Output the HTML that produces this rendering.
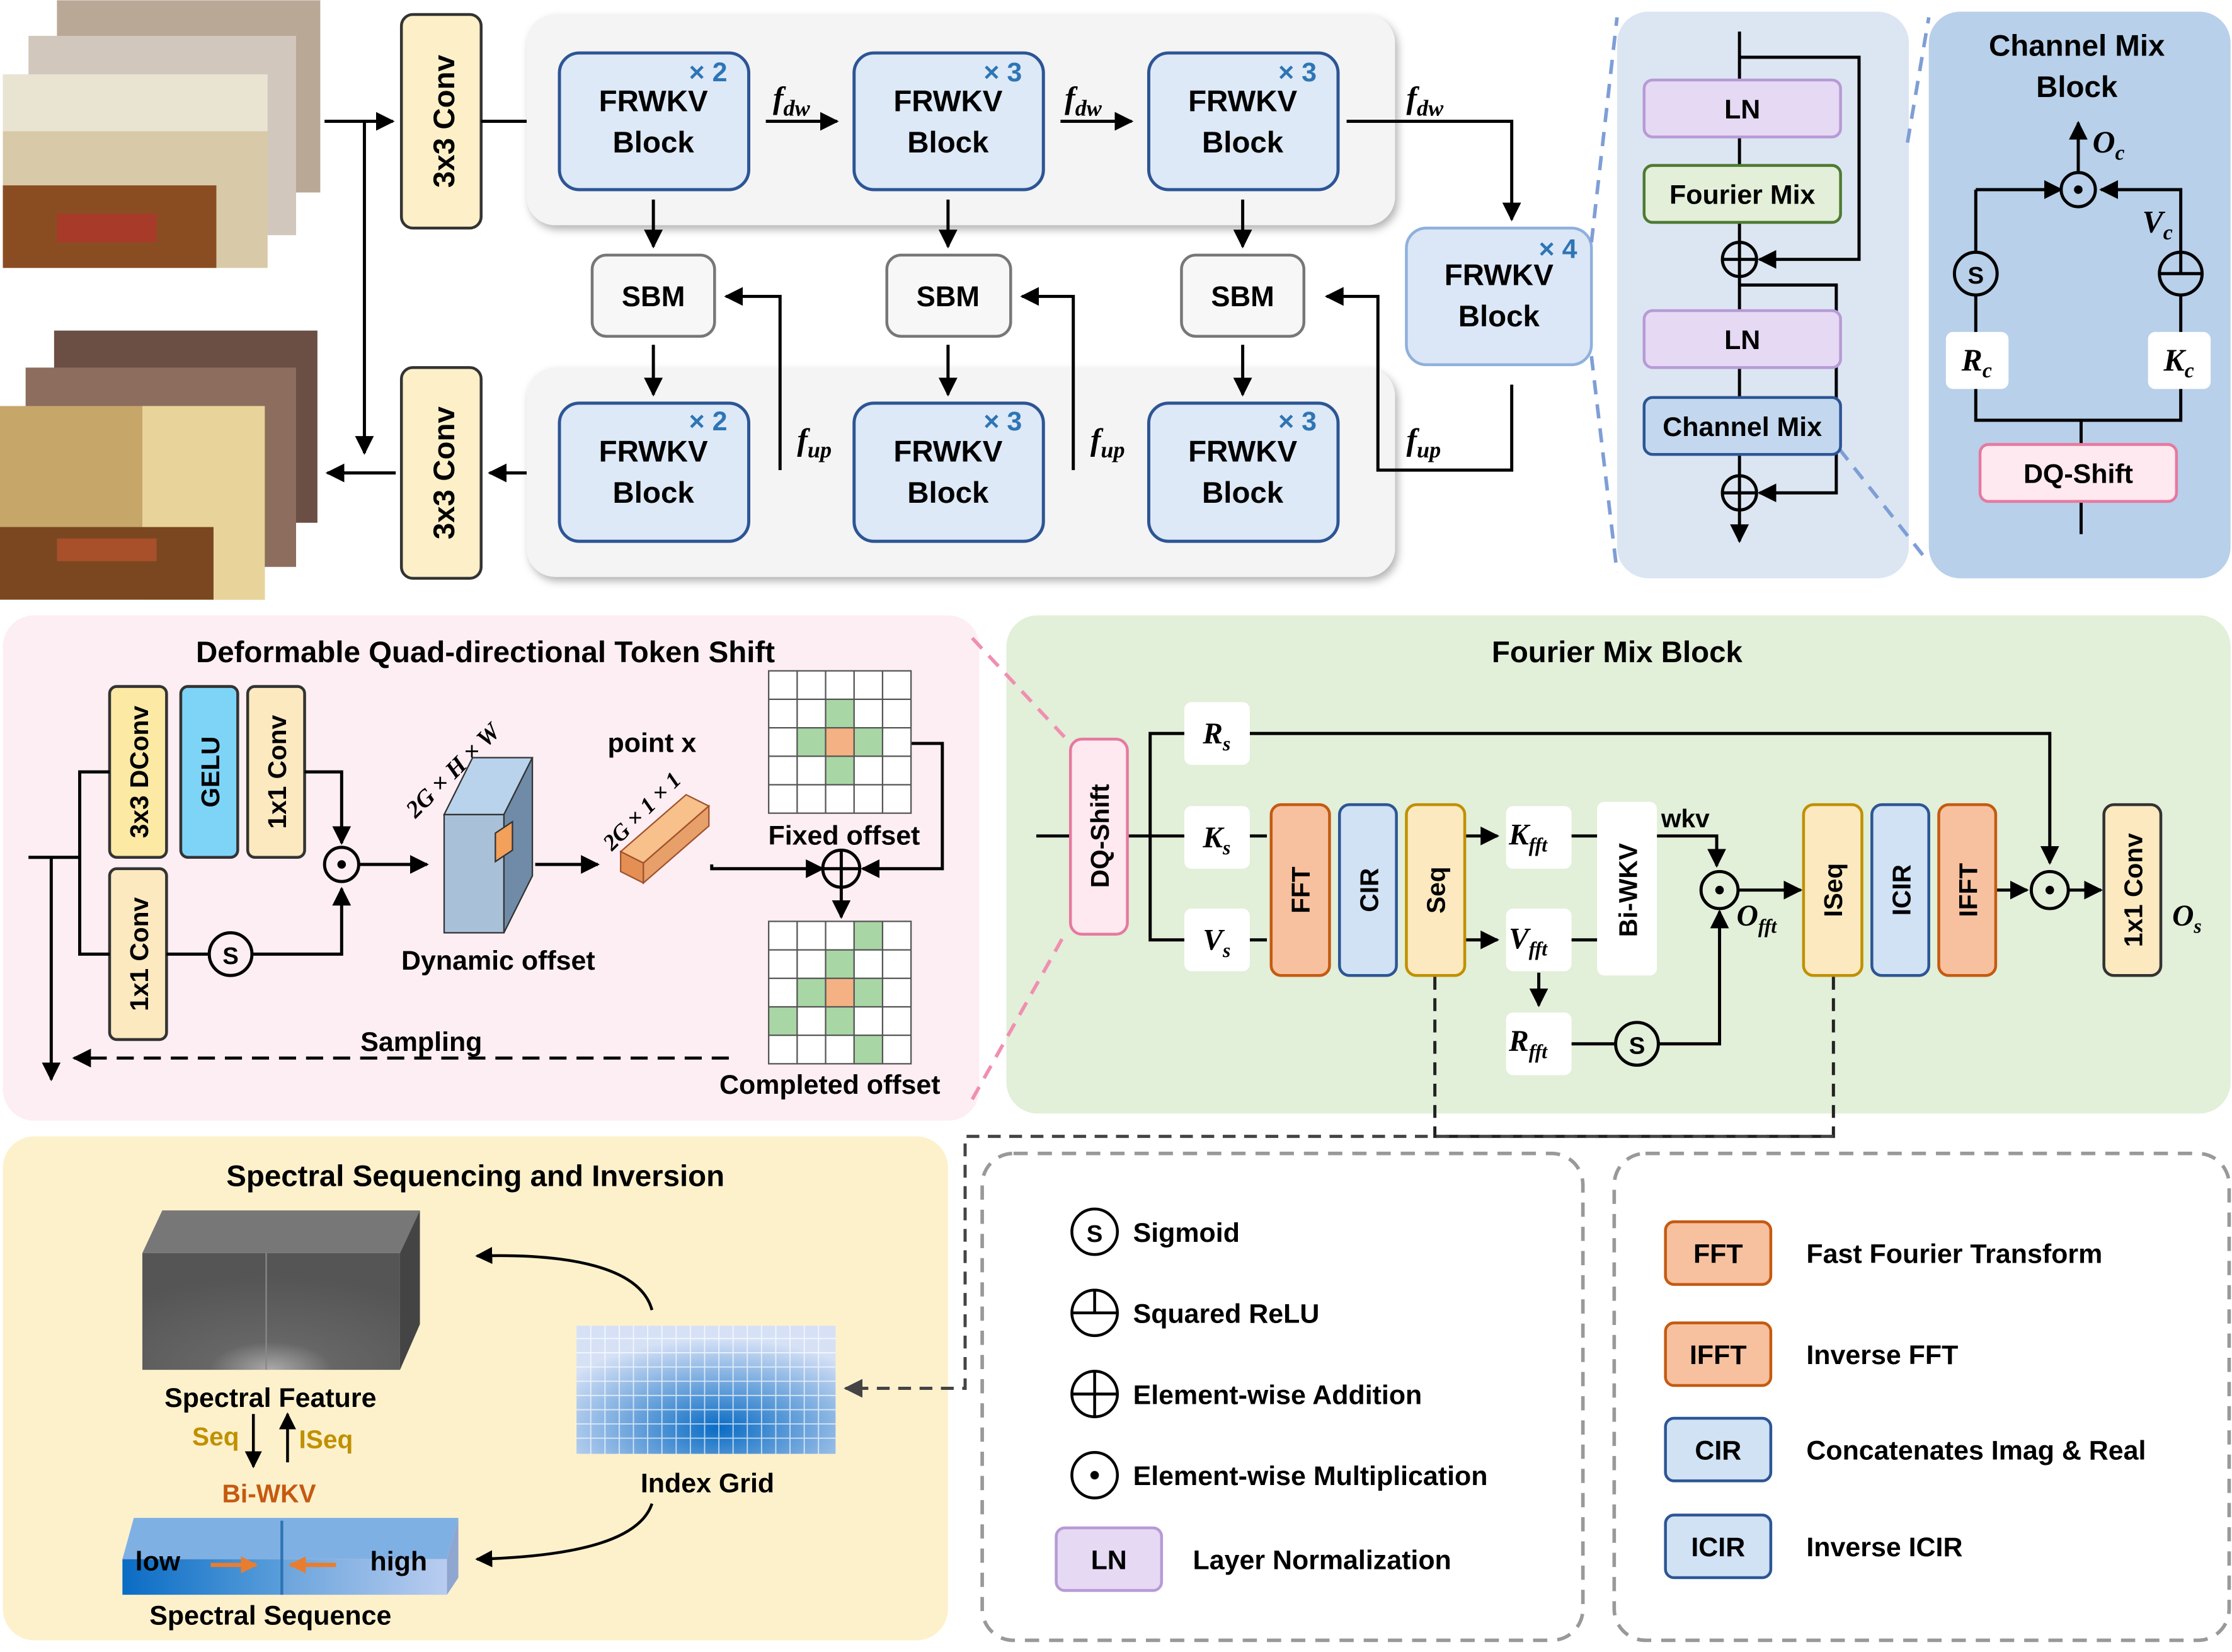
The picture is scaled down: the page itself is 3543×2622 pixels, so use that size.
<!DOCTYPE html>
<html><head><meta charset="utf-8"><style>
html,body{margin:0;padding:0;background:#fff}
svg{display:block}
text{font-family:"Liberation Sans",sans-serif;font-weight:bold}
.m{font-family:"Liberation Serif",serif;font-style:italic;font-weight:bold}
</style></head><body>
<svg width="3543" height="2622" viewBox="0 0 1568 1160" xmlns="http://www.w3.org/2000/svg">
<defs>
<marker id="a" viewBox="0 0 10 10" refX="9" refY="5" markerWidth="6" markerHeight="6" orient="auto-start-reverse"><path d="M0,0L10,5L0,10z" fill="#000"/></marker>
<marker id="ag" viewBox="0 0 10 10" refX="9" refY="5" markerWidth="6" markerHeight="6" orient="auto-start-reverse"><path d="M0,0L10,5L0,10z" fill="#444"/></marker>
<marker id="ao" viewBox="0 0 10 10" refX="9" refY="5" markerWidth="4" markerHeight="4" orient="auto"><path d="M0,0L10,5L0,10z" fill="#e87d30"/></marker>
<linearGradient id="g1" x1="0" x2="1"><stop offset="0" stop-color="#0a6cc4"/><stop offset="1" stop-color="#5a9edb"/></linearGradient>
<linearGradient id="g2" x1="0" x2="1"><stop offset="0" stop-color="#6aa4dc"/><stop offset="1" stop-color="#b9cdf0"/></linearGradient>
<radialGradient id="g3" cx="0.55" cy="0.8" r="0.7"><stop offset="0" stop-color="#0a6cc4"/><stop offset="1" stop-color="#d6e1f6"/></radialGradient>
<radialGradient id="g4" cx="0.5" cy="1" r="0.8"><stop offset="0" stop-color="#aaa"/><stop offset="0.3" stop-color="#666"/><stop offset="1" stop-color="#555"/></radialGradient>
<filter id="sh"><feDropShadow dx="2" dy="3" stdDeviation="3" flood-opacity="0.3"/></filter>
</defs>

<!-- photos -->
<rect x="40" y="0" width="185" height="135" fill="#b9a896"/>
<rect x="20" y="25" width="188" height="140" fill="#d2c7bc"/>
<rect x="2" y="52" width="186" height="136" fill="#d8c9a8"/>
<rect x="2" y="52" width="186" height="40" fill="#e9e3d2"/>
<rect x="2" y="130" width="150" height="58" fill="#8a4d22"/>
<rect x="40" y="150" width="70" height="20" fill="#a83a2a"/>
<rect x="38" y="232" width="185" height="135" fill="#6b4f44"/>
<rect x="18" y="258" width="190" height="140" fill="#8c6d5e"/>
<rect x="0" y="285" width="186" height="136" fill="#c7a66a"/>
<rect x="100" y="285" width="86" height="136" fill="#e8d49a"/>
<rect x="0" y="370" width="150" height="51" fill="#7a4720"/>
<rect x="40" y="378" width="70" height="16" fill="#a8502a"/>

<!-- Conv boxes -->
<rect x="282" y="10" width="56" height="150" rx="8" fill="#fdf0c8" stroke="#333" stroke-width="2"/>
<text transform="translate(319,85) rotate(-90)" text-anchor="middle" font-size="21">3x3 Conv</text>
<rect x="282" y="258" width="56" height="148" rx="8" fill="#fdf0c8" stroke="#333" stroke-width="2"/>
<text transform="translate(319,332) rotate(-90)" text-anchor="middle" font-size="21">3x3 Conv</text>

<g stroke="#000" stroke-width="2.2" fill="none" marker-end="url(#a)">
<line x1="228" y1="85" x2="276" y2="85"/>
<line x1="338" y1="85" x2="388" y2="85"/>
<line x1="256" y1="85" x2="256" y2="318"/>
<line x1="278" y1="332" x2="230" y2="332"/>
<line x1="388" y1="332" x2="344" y2="332"/>
</g>

<!-- panels -->
<rect x="370" y="10" width="610" height="148" rx="20" fill="#f4f4f4" filter="url(#sh)"/>
<rect x="370" y="258" width="610" height="147" rx="20" fill="#f4f4f4" filter="url(#sh)"/>

<g font-size="21" text-anchor="middle">
<g fill="#dde9f6" stroke="#2d5595" stroke-width="2.2">
<rect x="393" y="37" width="133" height="96" rx="14"/>
<rect x="600" y="37" width="133" height="96" rx="14"/>
<rect x="807" y="37" width="133" height="96" rx="14"/>
<rect x="393" y="283" width="133" height="97" rx="14"/>
<rect x="600" y="283" width="133" height="97" rx="14"/>
<rect x="807" y="283" width="133" height="97" rx="14"/>
</g>
<rect x="988" y="160" width="130" height="96" rx="14" fill="#dbe7f6" stroke="#8fb0dc" stroke-width="2"/>
<text x="459" y="78">FRWKV</text><text x="459" y="107">Block</text>
<text x="666" y="78">FRWKV</text><text x="666" y="107">Block</text>
<text x="873" y="78">FRWKV</text><text x="873" y="107">Block</text>
<text x="459" y="324">FRWKV</text><text x="459" y="353">Block</text>
<text x="666" y="324">FRWKV</text><text x="666" y="353">Block</text>
<text x="873" y="324">FRWKV</text><text x="873" y="353">Block</text>
<text x="1053" y="200">FRWKV</text><text x="1053" y="229">Block</text>
</g>
<g fill="#2e75b6" font-size="19" font-family="Liberation Serif">
<text x="484" y="57">× 2</text><text x="691" y="57">× 3</text><text x="898" y="57">× 3</text>
<text x="484" y="302">× 2</text><text x="691" y="302">× 3</text><text x="898" y="302">× 3</text>
<text x="1081" y="181">× 4</text>
</g>

<g fill="#f7f7f7" stroke="#777" stroke-width="2">
<rect x="416" y="179" width="86" height="57" rx="10"/>
<rect x="623" y="179" width="87" height="57" rx="10"/>
<rect x="830" y="179" width="86" height="57" rx="10"/>
</g>
<g font-size="20" text-anchor="middle"><text x="459" y="215">SBM</text><text x="666" y="215">SBM</text><text x="873" y="215">SBM</text></g>

<g stroke="#000" stroke-width="2.2" fill="none" marker-end="url(#a)">
<line x1="538" y1="85" x2="588" y2="85"/>
<line x1="745" y1="85" x2="795" y2="85"/>
<polyline points="946,85 1062,85 1062,154"/>
<line x1="459" y1="140" x2="459" y2="173"/>
<line x1="666" y1="140" x2="666" y2="173"/>
<line x1="873" y1="140" x2="873" y2="173"/>
<line x1="459" y1="242" x2="459" y2="277"/>
<line x1="666" y1="242" x2="666" y2="277"/>
<line x1="873" y1="242" x2="873" y2="277"/>
<polyline points="1062,270 1062,330 968,330 968,208 932,208"/>
<polyline points="754,330 754,208 718,208"/>
<polyline points="548,330 548,208 510,208"/>
</g>
<g font-size="22" class="m">
<text class="m" x="543" y="76">f<tspan font-size="16" dy="5">dw</tspan></text>
<text class="m" x="748" y="76">f<tspan font-size="16" dy="5">dw</tspan></text>
<text class="m" x="988" y="76">f<tspan font-size="16" dy="5">dw</tspan></text>
<text class="m" x="560" y="316">f<tspan font-size="16" dy="5">up</tspan></text>
<text class="m" x="766" y="316">f<tspan font-size="16" dy="5">up</tspan></text>
<text class="m" x="988" y="316">f<tspan font-size="16" dy="5">up</tspan></text>
</g>

<!-- right top panels -->
<rect x="1136" y="8" width="205" height="398" rx="22" fill="#dce6f2"/>
<rect x="1355" y="8" width="212" height="398" rx="22" fill="#b8d0ea"/>
<g stroke="#7f9ed6" stroke-width="2.5" stroke-dasharray="10,7" fill="none">
<line x1="1118" y1="170" x2="1136" y2="12"/><line x1="1118" y1="250" x2="1136" y2="402"/>
<line x1="1292" y1="315" x2="1355" y2="395"/><line x1="1340" y1="100" x2="1355" y2="12"/>
</g>
<g stroke="#000" stroke-width="2.2" fill="none">
<line x1="1222" y1="22" x2="1222" y2="380" marker-end="url(#a)"/>
<polyline points="1222,40 1306,40 1306,182 1236,182" marker-end="url(#a)"/>
<polyline points="1222,200 1290,200 1290,346 1236,346" marker-end="url(#a)"/>
<circle cx="1222" cy="182" r="12" fill="#dce6f2"/><line x1="1210" y1="182" x2="1234" y2="182"/><line x1="1222" y1="170" x2="1222" y2="194"/>
<circle cx="1222" cy="346" r="12" fill="#dce6f2"/><line x1="1210" y1="346" x2="1234" y2="346"/><line x1="1222" y1="334" x2="1222" y2="358"/>
</g>
<rect x="1155" y="56" width="138" height="40" rx="6" fill="#e6d9f4" stroke="#b79ad6" stroke-width="2"/>
<rect x="1155" y="116" width="138" height="40" rx="6" fill="#e3efd8" stroke="#4e7a33" stroke-width="2"/>
<rect x="1155" y="218" width="138" height="40" rx="6" fill="#e6d9f4" stroke="#b79ad6" stroke-width="2"/>
<rect x="1155" y="279" width="138" height="40" rx="6" fill="#c3d8ee" stroke="#2d5595" stroke-width="2"/>
<g font-size="19" text-anchor="middle"><text x="1224" y="83">LN</text><text x="1224" y="143">Fourier Mix</text><text x="1224" y="245">LN</text><text x="1224" y="306">Channel Mix</text></g>

<g font-size="21" text-anchor="middle"><text x="1459" y="39">Channel Mix</text><text x="1459" y="68">Block</text></g>
<g stroke="#000" stroke-width="2.2" fill="none">
<line x1="1462" y1="375" x2="1462" y2="295"/>
<polyline points="1388,265 1388,295 1532,295 1532,265"/>
<polyline points="1388,240 1388,208"/><line x1="1388" y1="176" x2="1388" y2="133"/>
<line x1="1388" y1="133" x2="1448" y2="133" marker-end="url(#a)"/>
<polyline points="1532,240 1532,208"/><polyline points="1532,176 1532,133 1476,133" marker-end="url(#a)"/>
<line x1="1460" y1="120" x2="1460" y2="86" marker-end="url(#a)"/>
<circle cx="1460" cy="133" r="12" fill="#b8d0ea"/>
<circle cx="1388" cy="192" r="15" fill="#b8d0ea"/>
<circle cx="1532" cy="192" r="15" fill="#b8d0ea"/><line x1="1517" y1="192" x2="1547" y2="192"/><line x1="1532" y1="177" x2="1532" y2="192"/>
</g>
<circle cx="1460" cy="133" r="3" fill="#000"/>
<text x="1388" y="199" font-size="17" text-anchor="middle" font-weight="normal">S</text>
<rect x="1367" y="233" width="44" height="40" rx="5" fill="#fff"/>
<rect x="1509" y="233" width="44" height="40" rx="5" fill="#fff"/>
<text class="m" x="1378" y="260" font-size="22">R<tspan font-size="15" dy="5">c</tspan></text>
<text class="m" x="1520" y="260" font-size="22">K<tspan font-size="15" dy="5">c</tspan></text>
<text class="m" x="1505" y="163" font-size="22">V<tspan font-size="15" dy="5">c</tspan></text>
<text class="m" x="1470" y="107" font-size="22">O<tspan font-size="15" dy="5">c</tspan></text>
<rect x="1391" y="312" width="138" height="40" rx="6" fill="#fde9ef" stroke="#e6799f" stroke-width="2"/>
<text x="1460" y="339" font-size="19" text-anchor="middle">DQ-Shift</text>

<!-- pink panel -->
<rect x="2" y="432" width="686" height="355" rx="22" fill="#fdeef3"/>
<text x="341" y="465" font-size="21" text-anchor="middle">Deformable Quad-directional Token Shift</text>
<rect x="77" y="482" width="40" height="120" rx="5" fill="#fce9a4" stroke="#333" stroke-width="2"/>
<rect x="127" y="482" width="40" height="120" rx="5" fill="#7ed4f7" stroke="#333" stroke-width="2"/>
<rect x="174" y="482" width="40" height="120" rx="5" fill="#fce9c0" stroke="#333" stroke-width="2"/>
<rect x="77" y="610" width="40" height="120" rx="5" fill="#fce9c0" stroke="#333" stroke-width="2"/>
<g font-size="18" text-anchor="middle">
<text transform="translate(104,542) rotate(-90)">3x3 DConv</text>
<text transform="translate(154,542) rotate(-90)">GELU</text>
<text transform="translate(201,542) rotate(-90)">1x1 Conv</text>
<text transform="translate(104,670) rotate(-90)">1x1 Conv</text>
</g>
<g stroke="#000" stroke-width="2.2" fill="none">
<line x1="36" y1="602" x2="36" y2="758" marker-end="url(#a)"/>
<line x1="20" y1="602" x2="56" y2="602"/>
<polyline points="77,542 56,542 56,670 77,670"/>
<polyline points="214,542 240,542 240,592" marker-end="url(#a)"/>
<line x1="117" y1="670" x2="146" y2="670"/>
<polyline points="178,670 240,670 240,624" marker-end="url(#a)"/>
<circle cx="240" cy="607" r="12" fill="#fdeef3"/>
<circle cx="162" cy="670" r="15" fill="#fdeef3"/>
<line x1="253" y1="607" x2="300" y2="607" marker-end="url(#a)"/>
<line x1="376" y1="607" x2="420" y2="607" marker-end="url(#a)"/>
<polyline points="500,607 500,610 578,610" marker-end="url(#a)"/>
<polyline points="640,522 662,522 662,610 606,610" marker-end="url(#a)"/>
<line x1="591" y1="624" x2="591" y2="644" marker-end="url(#a)"/>
<circle cx="591" cy="610" r="13" fill="#fdeef3"/><line x1="578" y1="610" x2="604" y2="610"/><line x1="591" y1="597" x2="591" y2="623"/>
<line x1="512" y1="743" x2="52" y2="743" stroke-dasharray="12,7" marker-end="url(#a)"/>
</g>
<circle cx="240" cy="607" r="3" fill="#000"/>
<text x="162" y="677" font-size="17" text-anchor="middle" font-weight="normal">S</text>
<polygon points="312,572 332,532 374,532 354,572" fill="#b9d3ec" stroke="#333"/>
<polygon points="354,572 374,532 374,615 354,655" fill="#6f8ba8" stroke="#333"/>
<rect x="312" y="572" width="42" height="83" fill="#a9c1d8" stroke="#333"/>
<polygon points="348,585 360,577 360,597 348,605" fill="#f2a05a" stroke="#333"/>
<text transform="translate(292,575) rotate(-45)" class="m" font-size="17">2G × H × W</text>
<polygon points="436,598 482,558 498,566 452,606" fill="#f8c08a" stroke="#a0522d"/>
<polygon points="436,598 452,606 452,620 436,612" fill="#e49055" stroke="#a0522d"/>
<polygon points="452,606 498,566 498,580 452,620" fill="#e8a06a" stroke="#a0522d"/>
<text transform="translate(430,598) rotate(-45)" class="m" font-size="16">2G × 1 × 1</text>
<text x="458" y="528" font-size="19" text-anchor="middle">point x</text>
<text x="350" y="681" font-size="19" text-anchor="middle">Dynamic offset</text>
<!-- grids -->
<g>
<rect x="540" y="471" width="100" height="100" fill="#fff"/>
<rect x="580" y="491" width="20" height="60" fill="#a9d6a5"/><rect x="560" y="511" width="60" height="20" fill="#a9d6a5"/>
<rect x="580" y="511" width="20" height="20" fill="#f4b183"/>
<path d="M540 471h100v100h-100zM540 491h100M540 511h100M540 531h100M540 551h100M560 471v100M580 471v100M600 471v100M620 471v100" fill="none" stroke="#555" stroke-width="1"/>
<rect x="540" y="647" width="100" height="100" fill="#fff"/>
<rect x="600" y="647" width="20" height="20" fill="#a9d6a5"/><rect x="580" y="667" width="20" height="20" fill="#a9d6a5"/><rect x="600" y="687" width="20" height="20" fill="#a9d6a5"/><rect x="560" y="687" width="20" height="20" fill="#a9d6a5"/><rect x="540" y="707" width="20" height="20" fill="#a9d6a5"/><rect x="580" y="707" width="20" height="20" fill="#a9d6a5"/><rect x="600" y="727" width="20" height="20" fill="#a9d6a5"/>
<rect x="580" y="687" width="20" height="20" fill="#f4b183"/>
<path d="M540 647h100v100h-100zM540 667h100M540 687h100M540 707h100M540 727h100M560 647v100M580 647v100M600 647v100M620 647v100" fill="none" stroke="#555" stroke-width="1"/>
</g>
<text x="593" y="593" font-size="19" text-anchor="middle">Fixed offset</text>
<text x="583" y="768" font-size="19" text-anchor="middle">Completed offset</text>
<text x="296" y="738" font-size="19" text-anchor="middle">Sampling</text>

<!-- green panel -->
<rect x="707" y="432" width="860" height="350" rx="22" fill="#e2efd9"/>
<g stroke="#f08fb0" stroke-width="2.5" stroke-dasharray="10,7"><line x1="683" y1="448" x2="752" y2="522"/><line x1="683" y1="772" x2="748" y2="656"/></g>
<text x="1136" y="465" font-size="21" text-anchor="middle">Fourier Mix Block</text>

<!-- yellow panel -->
<rect x="2" y="798" width="664" height="354" rx="22" fill="#fdf1cc"/>

<g stroke="#000" stroke-width="2.2" fill="none">
<line x1="728" y1="587" x2="752" y2="587"/>
<polyline points="792,587 808,587"/>
<polyline points="832,515 808,515 808,660 832,660"/><line x1="808" y1="587" x2="832" y2="587"/>
<polyline points="878,515 1440,515 1440,606" marker-end="url(#a)"/>
<line x1="878" y1="587" x2="890" y2="587"/><line x1="878" y1="660" x2="890" y2="660"/>
<line x1="1029" y1="587" x2="1052" y2="587" marker-end="url(#a)"/>
<line x1="1029" y1="660" x2="1052" y2="660" marker-end="url(#a)"/>
<line x1="1104" y1="587" x2="1122" y2="587"/><line x1="1104" y1="660" x2="1122" y2="660"/>
<polyline points="1164,587 1206,587 1206,608" marker-end="url(#a)"/>
<line x1="1081" y1="683" x2="1081" y2="706" marker-end="url(#a)"/>
<line x1="1104" y1="733" x2="1134" y2="733"/>
<polyline points="1166,733 1208,733 1208,640" marker-end="url(#a)"/>
<line x1="1221" y1="625" x2="1265" y2="625" marker-end="url(#a)"/>
<line x1="1402" y1="625" x2="1424" y2="625" marker-end="url(#a)"/>
<line x1="1454" y1="625" x2="1476" y2="625" marker-end="url(#a)"/>
<circle cx="1208" cy="625" r="13" fill="#e2efd9"/>
<circle cx="1440" cy="625" r="13" fill="#e2efd9"/>
<circle cx="1150" cy="733" r="15" fill="#e2efd9"/>
<g stroke-dasharray="9,6" stroke="#222"><polyline points="1008,686 1008,798 1288,798 1288,686"/><polyline points="1288,798 678,798 678,975 594,975" marker-end="url(#ag)" stroke="#444"/></g>
</g>
<circle cx="1208" cy="625" r="3" fill="#000"/><circle cx="1440" cy="625" r="3" fill="#000"/>
<text x="1150" y="740" font-size="17" text-anchor="middle" font-weight="normal">S</text>
<rect x="752" y="519" width="40" height="137" rx="8" fill="#fde9ef" stroke="#e6799f" stroke-width="2"/>
<text transform="translate(779,587) rotate(-90)" font-size="18" text-anchor="middle">DQ-Shift</text>
<g fill="#fff"><rect x="832" y="493" width="46" height="44" rx="5"/><rect x="832" y="566" width="46" height="44" rx="5"/><rect x="832" y="638" width="46" height="44" rx="5"/>
<rect x="1058" y="566" width="46" height="44" rx="5"/><rect x="1058" y="638" width="46" height="44" rx="5"/><rect x="1058" y="711" width="46" height="44" rx="5"/>
<rect x="1122" y="563" width="42" height="122" rx="5"/></g>
<g class="m" font-size="21">
<text class="m" x="845" y="522">R<tspan font-size="14" dy="5">s</tspan></text>
<text class="m" x="845" y="595">K<tspan font-size="14" dy="5">s</tspan></text>
<text class="m" x="845" y="667">V<tspan font-size="14" dy="5">s</tspan></text>
<text class="m" x="1060" y="593">K<tspan font-size="14" dy="5">fft</tspan></text>
<text class="m" x="1060" y="666">V<tspan font-size="14" dy="5">fft</tspan></text>
<text class="m" x="1060" y="738">R<tspan font-size="14" dy="5">fft</tspan></text>
<text class="m" x="1220" y="650">O<tspan font-size="14" dy="5">fft</tspan></text>
<text class="m" x="1526" y="650">O<tspan font-size="14" dy="5">s</tspan></text>
</g>
<text x="1167" y="581" font-size="18">wkv</text>
<rect x="893" y="565" width="41" height="120" rx="7" fill="#f7c19f" stroke="#c55a11" stroke-width="2"/>
<rect x="941" y="565" width="40" height="120" rx="7" fill="#d0e2f4" stroke="#2d5595" stroke-width="2"/>
<rect x="988" y="565" width="41" height="120" rx="7" fill="#fce9c0" stroke="#c09000" stroke-width="2"/>
<rect x="1267" y="565" width="41" height="120" rx="7" fill="#fce9c0" stroke="#c09000" stroke-width="2"/>
<rect x="1315" y="565" width="40" height="120" rx="7" fill="#d0e2f4" stroke="#2d5595" stroke-width="2"/>
<rect x="1362" y="565" width="40" height="120" rx="7" fill="#f7c19f" stroke="#c55a11" stroke-width="2"/>
<rect x="1478" y="565" width="40" height="120" rx="7" fill="#fce9c0" stroke="#333" stroke-width="2"/>
<g font-size="18" text-anchor="middle">
<text transform="translate(920,625) rotate(-90)">FFT</text>
<text transform="translate(968,625) rotate(-90)">CIR</text>
<text transform="translate(1015,625) rotate(-90)">Seq</text>
<text transform="translate(1150,625) rotate(-90)">Bi-WKV</text>
<text transform="translate(1294,625) rotate(-90)">ISeq</text>
<text transform="translate(1342,625) rotate(-90)">ICIR</text>
<text transform="translate(1389,625) rotate(-90)">IFFT</text>
<text transform="translate(1505,625) rotate(-90)">1x1 Conv</text>
</g>

<text x="334" y="833" font-size="21" text-anchor="middle">Spectral Sequencing and Inversion</text>
<polygon points="100,880 114,850 295,850 281,880" fill="#777"/>
<polygon points="281,880 295,850 295,930 281,962" fill="#444"/>
<rect x="100" y="880" width="181" height="82" fill="url(#g4)"/>
<line x1="187" y1="880" x2="187" y2="962" stroke="#888"/>
<text x="190" y="988" font-size="19" text-anchor="middle">Spectral Feature</text>
<g stroke="#000" stroke-width="2" fill="none" marker-end="url(#a)"><line x1="178" y1="993" x2="178" y2="1030"/><line x1="202" y1="1027" x2="202" y2="993"/>
<path d="M458 920 C450 890 400 880 335 882"/><path d="M458 1056 C450 1080 410 1093 335 1095"/></g>
<text x="168" y="1015" font-size="18" fill="#c09000" text-anchor="end">Seq</text>
<text x="210" y="1017" font-size="18" fill="#c09000">ISeq</text>
<text x="189" y="1055" font-size="18" fill="#c55a11" text-anchor="middle">Bi-WKV</text>
<polygon points="86,1095 94,1066 322,1066 314,1095" fill="#7fb0e4"/>
<polygon points="314,1095 322,1066 322,1108 314,1120" fill="#8fa6d0"/>
<rect x="86" y="1095" width="112" height="25" fill="url(#g1)"/>
<rect x="198" y="1095" width="116" height="25" fill="url(#g2)"/>
<line x1="198" y1="1068" x2="198" y2="1120" stroke="#2e75b6" stroke-width="2"/>
<text x="95" y="1103" font-size="19" font-weight="normal">low</text>
<text x="260" y="1103" font-size="19" font-weight="normal">high</text>
<line x1="148" y1="1099" x2="180" y2="1099" stroke="#e87d30" stroke-width="3" marker-end="url(#ao)"/>
<line x1="236" y1="1099" x2="204" y2="1099" stroke="#e87d30" stroke-width="3" marker-end="url(#ao)"/>
<text x="190" y="1141" font-size="19" text-anchor="middle">Spectral Sequence</text>
<rect x="405" y="931" width="182" height="90" fill="url(#g3)"/>
<path d="M405 940h182M405 950h182M405 960h182M405 970h182M405 980h182M405 990h182M405 1000h182M405 1010h182M415 931v90M425 931v90M435 931v90M445 931v90M455 931v90M465 931v90M475 931v90M485 931v90M495 931v90M505 931v90M515 931v90M525 931v90M535 931v90M545 931v90M555 931v90M565 931v90M575 931v90" stroke="#fff" stroke-width="0.8" opacity="0.7"/>
<text x="497" y="1048" font-size="19" text-anchor="middle">Index Grid</text>

<!-- legends -->
<rect x="690" y="810" width="422" height="342" rx="22" fill="none" stroke="#999" stroke-width="2.5" stroke-dasharray="10,7"/>
<rect x="1134" y="810" width="432" height="342" rx="22" fill="none" stroke="#999" stroke-width="2.5" stroke-dasharray="10,7"/>
<g stroke="#000" stroke-width="2" fill="none">
<circle cx="769" cy="865" r="16"/>
<circle cx="769" cy="922" r="16"/><line x1="753" y1="922" x2="785" y2="922"/><line x1="769" y1="906" x2="769" y2="922"/>
<circle cx="769" cy="979" r="16"/><line x1="753" y1="979" x2="785" y2="979"/><line x1="769" y1="963" x2="769" y2="995"/>
<circle cx="769" cy="1036" r="16"/>
</g>
<circle cx="769" cy="1036" r="3" fill="#000"/>
<text x="769" y="872" font-size="17" text-anchor="middle" font-weight="normal">S</text>
<rect x="742" y="1073" width="74" height="44" rx="6" fill="#e6d9f4" stroke="#b79ad6" stroke-width="2"/>
<g font-size="19">
<text x="779" y="1102" text-anchor="middle">LN</text>
<text x="796" y="872">Sigmoid</text>
<text x="796" y="929">Squared ReLU</text>
<text x="796" y="986">Element-wise Addition</text>
<text x="796" y="1043">Element-wise Multiplication</text>
<text x="838" y="1102">Layer Normalization</text>
</g>
<rect x="1170" y="858" width="74" height="44" rx="6" fill="#f7c19f" stroke="#c55a11" stroke-width="2"/>
<rect x="1170" y="929" width="74" height="44" rx="6" fill="#f7c19f" stroke="#c55a11" stroke-width="2"/>
<rect x="1170" y="996" width="74" height="44" rx="6" fill="#d0e2f4" stroke="#2d5595" stroke-width="2"/>
<rect x="1170" y="1064" width="74" height="44" rx="6" fill="#d0e2f4" stroke="#2d5595" stroke-width="2"/>
<g font-size="19">
<text x="1207" y="887" text-anchor="middle">FFT</text>
<text x="1207" y="958" text-anchor="middle">IFFT</text>
<text x="1207" y="1025" text-anchor="middle">CIR</text>
<text x="1207" y="1093" text-anchor="middle">ICIR</text>
<text x="1269" y="887">Fast Fourier Transform</text>
<text x="1269" y="958">Inverse FFT</text>
<text x="1269" y="1025">Concatenates Imag &amp; Real</text>
<text x="1269" y="1093">Inverse ICIR</text>
</g>
</svg>
</body></html>
